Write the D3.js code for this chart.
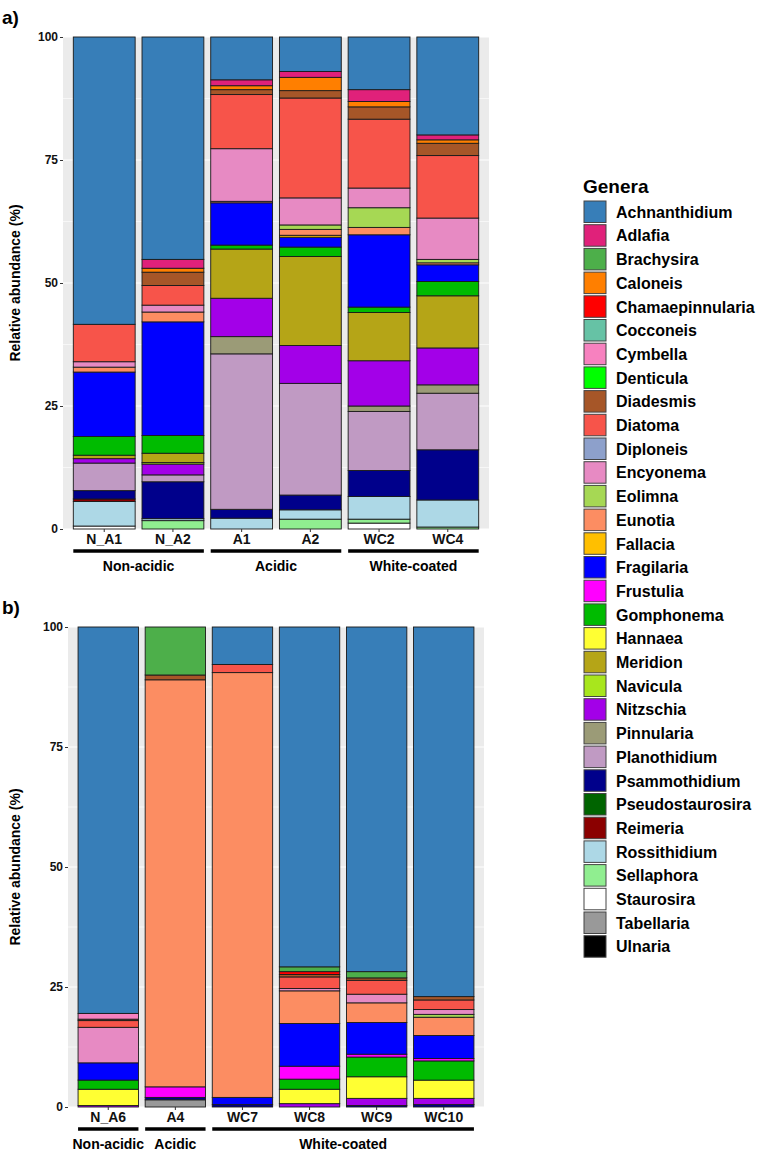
<!DOCTYPE html>
<html>
<head>
<meta charset="utf-8">
<script src="https://cdn.jsdelivr.net/npm/d3@7"></script>
<style>
  body { margin: 0; background: #fff; }
  svg text { font-family: "Liberation Sans", Arial, sans-serif; font-weight: bold; }
</style>
</head>
<body>
<div id="chart"></div>
<script>
// genera, legend order (first one sits at the top of each stack)
const genera = ["Achnanthidium","Adlafia","Brachysira","Caloneis","Chamaepinnularia","Cocconeis",
  "Cymbella","Denticula","Diadesmis","Diatoma","Diploneis","Encyonema","Eolimna","Eunotia",
  "Fallacia","Fragilaria","Frustulia","Gomphonema","Hannaea","Meridion","Navicula","Nitzschia",
  "Pinnularia","Planothidium","Psammothidium","Pseudostaurosira","Reimeria","Rossithidium",
  "Sellaphora","Staurosira","Tabellaria","Ulnaria"]
const generaColors = ["#377eb8","#e0217a","#4daf4a","#ff7f00","#ff0000","#66c2a5",
  "#f781bf","#00ff00","#a65628","#f7544a","#8da0cb","#e78ac3","#a6d854","#fc8d62",
  "#ffbf00","#0000ff","#ff00ff","#00bb00","#ffff33","#b5a517","#a8e61d","#a300e8",
  "#9b9b77","#c09ac3","#00008b","#006400","#8b0000","#add8e6",
  "#90ee90","#ffffff","#999999","#000000"]

// relative abundance (%) per sample, panel a
const N_A1 = [["Achnanthidium",58.4],["Diatoma",7.6],["Encyonema",1.1],["Eunotia",1.0],["Fragilaria",13.1],
  ["Gomphonema",3.8],["Meridion",0.7],["Nitzschia",0.9],["Planothidium",5.6],["Psammothidium",1.7],
  ["Reimeria",0.5],["Rossithidium",5.0],["Staurosira",0.6]]
const N_A2 = [["Achnanthidium",45.2],["Adlafia",1.8],["Caloneis",0.8],["Diadesmis",2.7],["Diatoma",4.0],
  ["Encyonema",1.4],["Eunotia",2.0],["Fragilaria",23.1],["Gomphonema",3.6],["Meridion",1.9],["Navicula",0.3],
  ["Nitzschia",2.2],["Planothidium",1.4],["Psammothidium",7.5],["Rossithidium",0.4],["Sellaphora",1.7]]
const A1 = [["Achnanthidium",8.7],["Adlafia",1.2],["Caloneis",0.8],["Diadesmis",1.0],["Diatoma",11.0],
  ["Encyonema",10.7],["Eunotia",0.3],["Fragilaria",8.6],["Gomphonema",0.8],["Meridion",10.0],
  ["Nitzschia",7.8],["Pinnularia",3.5],["Planothidium",31.6],["Psammothidium",1.8],["Rossithidium",2.2]]
const A2 = [["Achnanthidium",7.0],["Adlafia",1.2],["Caloneis",2.7],["Diadesmis",1.5],["Diatoma",20.3],
  ["Encyonema",5.5],["Eolimna",0.9],["Eunotia",1.2],["Fallacia",0.4],["Fragilaria",2.0],["Gomphonema",1.9],
  ["Meridion",18.1],["Nitzschia",7.7],["Planothidium",22.7],["Psammothidium",3.0],["Rossithidium",1.9],
  ["Sellaphora",2.0]]
const WC2 = [["Achnanthidium",10.7],["Adlafia",2.4],["Caloneis",1.1],["Diadesmis",2.5],["Diatoma",14.0],
  ["Encyonema",4.0],["Eolimna",4.0],["Eunotia",1.5],["Fragilaria",14.7],["Gomphonema",1.1],["Meridion",9.8],
  ["Nitzschia",9.2],["Pinnularia",1.1],["Planothidium",12.0],["Psammothidium",5.3],["Rossithidium",4.6],
  ["Sellaphora",0.8],["Staurosira",1.2]]
const WC4 = [["Achnanthidium",19.9],["Adlafia",1.0],["Caloneis",0.7],["Diadesmis",2.5],["Diatoma",12.7],
  ["Encyonema",8.4],["Eolimna",0.7],["Eunotia",0.4],["Fragilaria",3.4],["Gomphonema",2.9],["Meridion",10.6],
  ["Nitzschia",7.5],["Pinnularia",1.7],["Planothidium",11.5],["Psammothidium",10.2],["Rossithidium",5.5],
  ["Sellaphora",0.4]]

// panel b
const N_A6 = [["Achnanthidium",80.5],["Cymbella",1.2],["Diadesmis",0.3],["Diatoma",1.4],["Encyonema",7.4],
  ["Fragilaria",3.6],["Gomphonema",1.9],["Hannaea",3.4],["Nitzschia",0.3]]
const A4 = [["Brachysira",10.0],["Diadesmis",1.0],["Eunotia",84.8],["Frustulia",2.2],["Psammothidium",0.5],
  ["Tabellaria",1.5]]
const WC7 = [["Achnanthidium",7.8],["Diatoma",1.7],["Eunotia",88.5],["Fragilaria",1.5],["Psammothidium",0.5]]
const WC8 = [["Achnanthidium",70.8],["Brachysira",1.0],["Chamaepinnularia",0.6],["Diadesmis",0.5],["Diatoma",2.4],
  ["Encyonema",0.5],["Eunotia",6.8],["Fragilaria",8.9],["Frustulia",2.7],["Gomphonema",2.1],["Hannaea",3.0],
  ["Nitzschia",0.7]]
const WC9 = [["Achnanthidium",71.8],["Brachysira",1.3],["Diadesmis",0.5],["Diatoma",2.9],["Encyonema",1.8],
  ["Eunotia",4.1],["Fragilaria",6.6],["Frustulia",0.6],["Gomphonema",4.1],["Hannaea",4.5],["Nitzschia",1.5],
  ["Psammothidium",0.3]]
const WC10 = [["Achnanthidium",77.0],["Diadesmis",0.7],["Diatoma",2.0],["Encyonema",1.0],["Eolimna",0.6],
  ["Eunotia",3.8],["Fragilaria",4.8],["Frustulia",0.5],["Gomphonema",4.0],["Hannaea",3.8],["Nitzschia",1.3],
  ["Psammothidium",0.5]]

const samplesA = [["N_A1",N_A1],["N_A2",N_A2],["A1",A1],["A2",A2],["WC2",WC2],["WC4",WC4]]
const samplesB = [["N_A6",N_A6],["A4",A4],["WC7",WC7],["WC8",WC8],["WC9",WC9],["WC10",WC10]]
const groupsA = [["Non-acidic","N_A1","N_A2"],["Acidic","A1","A2"],["White-coated","WC2","WC4"]]
const groupsB = [["Non-acidic","N_A6","N_A6"],["Acidic","A4","A4"],["White-coated","WC7","WC10"]]
const yTicks = [0,25,50,75,100]

const W = 762, H = 1158
const svg = d3.select('#chart').append('svg')
    .attr('width', W).attr('height', H)

const color = d3.scaleOrdinal().domain(genera).range(generaColors)

function drawPanel(samples, groups, box, tag){
    let x = d3.scaleBand()
        .domain(samples.map(s => s[0]))
        .range([box.left, box.right])
        .paddingInner(0.1).paddingOuter(0.15)
    let y = d3.scaleLinear().domain([0,100]).range([box.bottom, box.top])

    let g = svg.append('g')

    g.append('rect')
        .attr('x', box.left).attr('y', box.top)
        .attr('width', box.right - box.left).attr('height', box.bottom - box.top)
        .attr('fill', '#ebebeb')

    // minor + major grid
    d3.range(12.5, 100, 25).forEach(v => {
        g.append('line').attr('x1', box.left).attr('x2', box.right)
            .attr('y1', y(v)).attr('y2', y(v))
            .attr('stroke', '#fff').attr('stroke-width', 0.6)
    })
    yTicks.forEach(v => {
        g.append('line').attr('x1', box.left).attr('x2', box.right)
            .attr('y1', y(v)).attr('y2', y(v))
            .attr('stroke', '#fff').attr('stroke-width', 1.2)
    })

    // stacks: last genus at the bottom
    samples.forEach(([name, vals]) => {
        let lookup = new Map(vals)
        let acc = 0
        let segs = []
        for(let i = genera.length - 1; i >= 0; i--){
            let v = lookup.get(genera[i])
            if(!v) continue
            segs.push({genus: genera[i], y0: acc, y1: acc + v})
            acc += v
        }
        g.selectAll(null)
            .data(segs)
            .enter().append('rect')
            .attr('x', x(name))
            .attr('width', x.bandwidth())
            .attr('y', d => y(d.y1))
            .attr('height', d => y(d.y0) - y(d.y1))
            .attr('fill', d => color(d.genus))
            .attr('stroke', '#1a1a1a')
            .attr('stroke-width', 0.9)
    })

    let yAxis = g.append('g')
        .attr('transform', 'translate(' + box.left + ',0)')
        .call(d3.axisLeft(y).tickValues(yTicks).tickSize(3).tickPadding(2))
    yAxis.select('.domain').remove()
    yAxis.selectAll('line').attr('stroke', '#333')
    yAxis.selectAll('text').attr('fill', '#111').style('font-size', '12px')

    let xAxis = g.append('g')
        .attr('transform', 'translate(0,' + box.bottom + ')')
        .call(d3.axisBottom(x).tickSize(3).tickPadding(2))
    xAxis.select('.domain').remove()
    xAxis.selectAll('line').attr('stroke', '#333')
    xAxis.selectAll('text').attr('fill', '#111').style('font-size', '14px')

    groups.forEach(([label, first, last]) => {
        let x0 = x(first), x1 = x(last) + x.bandwidth()
        g.append('line')
            .attr('x1', x0).attr('x2', x1)
            .attr('y1', box.bottom + box.lineOff).attr('y2', box.bottom + box.lineOff)
            .attr('stroke', '#000').attr('stroke-width', 3.5)
        g.append('text')
            .attr('x', (x0 + x1) / 2)
            .attr('y', box.bottom + box.lineOff + 20)
            .attr('text-anchor', 'middle')
            .style('font-size', '14px')
            .text(label)
    })

    g.append('text')
        .attr('transform', 'translate(20,' + ((box.top + box.bottom) / 2) + ') rotate(-90)')
        .attr('text-anchor', 'middle')
        .style('font-size', '14px')
        .text('Relative abundance (%)')

    g.append('text')
        .attr('x', 2).attr('y', box.top - 13)
        .style('font-size', '19px')
        .text(tag)
}

drawPanel(samplesA, groupsA, {left: 63, right: 489, top: 37, bottom: 529, lineOff: 22}, 'a)')
drawPanel(samplesB, groupsB, {left: 68, right: 484, top: 627, bottom: 1107, lineOff: 22}, 'b)')

// legend
let legend = svg.append('g').attr('transform', 'translate(584,201)')
legend.append('text')
    .attr('x', -1).attr('y', -8)
    .style('font-size', '19px')
    .text('Genera')
let items = legend.selectAll('g.item')
    .data(genera)
    .enter().append('g')
    .attr('class', 'item')
    .attr('transform', (d, i) => 'translate(0,' + (i * 23.7) + ')')
items.append('rect')
    .attr('width', 22).attr('height', 21.5)
    .attr('fill', d => color(d))
    .attr('stroke', '#444').attr('stroke-width', 1)
items.append('text')
    .attr('x', 32).attr('y', 11)
    .attr('dy', '0.36em')
    .style('font-size', '16px')
    .text(d => d)
</script>
</body>
</html>
